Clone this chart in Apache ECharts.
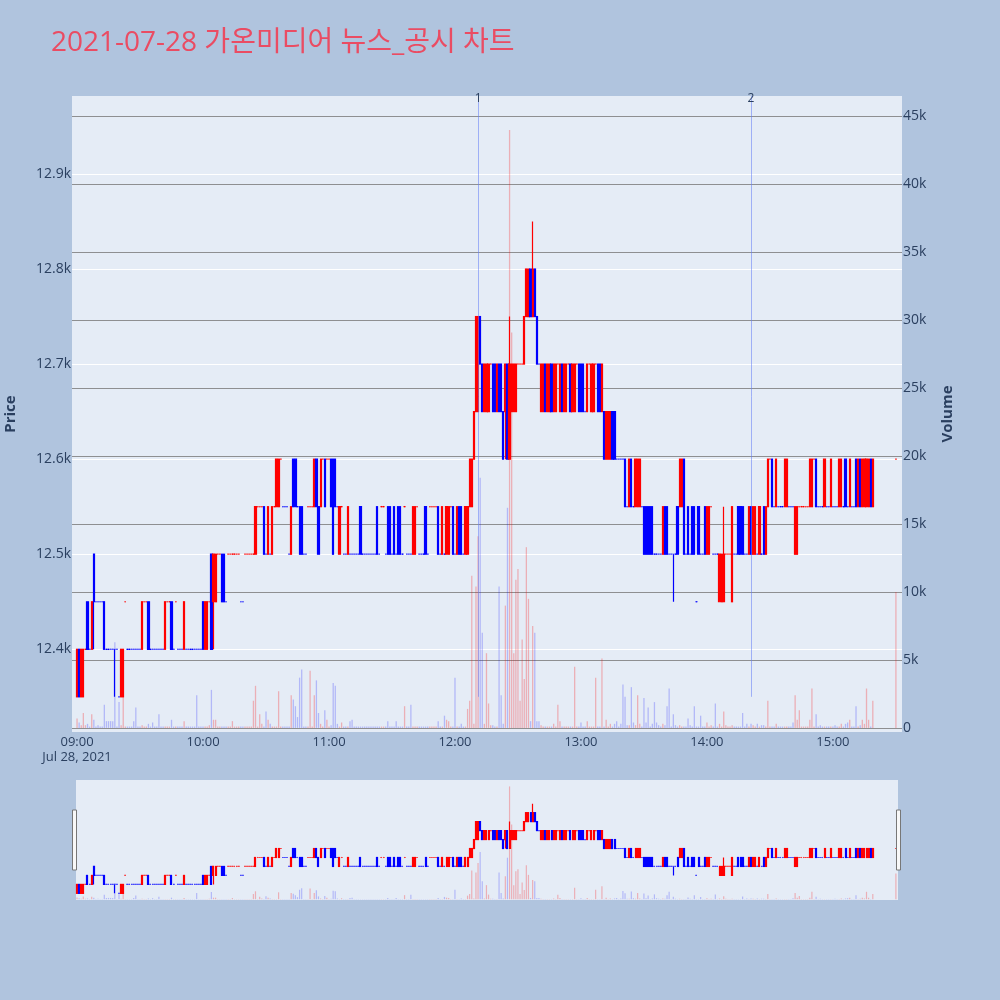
<!DOCTYPE html>
<html><head><meta charset="utf-8">
<script src="https://cdn.jsdelivr.net/npm/echarts@6/dist/echarts.min.js"></script>
<style>html,body{margin:0;padding:0;background:#b0c4de}#c{width:1000px;height:1000px}</style>
</head><body><div id="c"></div>
<script>
const titleText = '2021-07-28 가온미디어 뉴스_공시 차트';
const dateText = 'Jul 28, 2021';
const closeAuctionTime = '15:30';
// one candle per minute from 09:00, the last one is the 15:30 closing auction
const opens = [
12350,12400,12350,12350,12400,12450,12400,12400,12500,12450,
12450,12450,12450,12450,12400,12400,12400,12400,12400,12400,
12350,12350,12350,12450,12400,12400,12400,12400,12400,12400,
12400,12400,12450,12450,12450,12400,12400,12400,12400,12400,
12400,12400,12400,12450,12450,12450,12400,12450,12400,12400,
12400,12400,12400,12400,12400,12400,12400,12400,12400,12400,
12450,12400,12400,12450,12500,12450,12450,12500,12500,12500,
12500,12450,12500,12500,12500,12500,12500,12500,12450,12450,
12500,12500,12500,12500,12500,12500,12550,12550,12550,12550,
12500,12500,12500,12500,12550,12550,12550,12600,12550,12550,
12550,12500,12500,12600,12600,12550,12550,12550,12500,12500,
12550,12550,12550,12550,12600,12550,12550,12600,12600,12600,
12600,12600,12600,12600,12550,12500,12550,12500,12500,12500,
12500,12500,12500,12500,12500,12550,12500,12500,12500,12500,
12500,12500,12500,12550,12500,12550,12550,12500,12550,12550,
12500,12550,12500,12550,12550,12500,12550,12500,12500,12500,
12500,12500,12550,12500,12500,12500,12550,12500,12550,12550,
12550,12550,12550,12500,12500,12500,12500,12500,12550,12550,
12500,12500,12550,12550,12500,12500,12500,12550,12550,12600,
12650,12650,12750,12700,12650,12650,12650,12700,12700,12700,
12650,12700,12700,12650,12650,12700,12600,12650,12650,12650,
12700,12700,12700,12700,12750,12750,12800,12750,12800,12750,
12700,12650,12650,12700,12650,12650,12700,12650,12650,12700,
12650,12700,12650,12650,12700,12700,12650,12650,12700,12700,
12700,12700,12650,12650,12700,12650,12650,12700,12700,12700,
12650,12650,12600,12600,12600,12650,12650,12600,12600,12600,
12600,12600,12550,12550,12600,12550,12550,12550,12550,12550,
12550,12550,12550,12550,12550,12500,12500,12500,12500,12500,
12550,12550,12500,12500,12500,12500,12550,12550,12550,12600,
12500,12550,12500,12550,12550,12450,12550,12500,12500,12550,
12500,12500,12550,12500,12500,12500,12450,12450,12450,12500,
12500,12500,12450,12500,12500,12550,12550,12550,12500,12500,
12500,12550,12500,12500,12500,12500,12500,12550,12500,12550,
12600,12600,12550,12550,12550,12550,12550,12550,12550,12550,
12550,12550,12500,12500,12550,12550,12550,12550,12550,12550,
12550,12600,12600,12550,12550,12550,12550,12550,12550,12550,
12550,12550,12550,12550,12550,12550,12600,12550,12550,12550,
12550,12600,12550,12600,12550,12550,12550,12550,12600,12550,
12600];
const closes = [
12400,12350,12400,12400,12400,12400,12400,12450,12450,12450,
12450,12450,12450,12400,12400,12400,12400,12400,12400,12400,
12350,12400,12400,12450,12400,12400,12400,12400,12400,12400,
12400,12450,12450,12450,12400,12400,12400,12400,12400,12400,
12400,12400,12450,12450,12450,12400,12400,12450,12400,12400,
12400,12450,12400,12400,12400,12400,12400,12400,12400,12400,
12400,12450,12450,12450,12400,12500,12500,12500,12500,12450,
12450,12450,12500,12500,12500,12500,12500,12500,12450,12450,
12500,12500,12500,12500,12500,12550,12550,12550,12550,12500,
12500,12550,12500,12550,12550,12600,12600,12600,12550,12550,
12550,12500,12550,12550,12550,12550,12500,12500,12500,12500,
12550,12550,12550,12600,12550,12500,12600,12600,12550,12600,
12600,12550,12500,12550,12550,12550,12550,12500,12500,12550,
12500,12500,12500,12500,12500,12500,12500,12500,12500,12500,
12500,12500,12500,12500,12500,12550,12550,12500,12500,12500,
12500,12500,12500,12500,12500,12500,12550,12500,12500,12500,
12550,12550,12550,12500,12500,12500,12500,12500,12550,12550,
12550,12550,12500,12500,12550,12500,12550,12550,12550,12500,
12500,12550,12500,12500,12500,12550,12550,12600,12600,12650,
12750,12750,12700,12650,12700,12700,12700,12700,12650,12650,
12700,12650,12650,12600,12700,12600,12700,12700,12700,12700,
12700,12700,12700,12750,12800,12800,12750,12800,12750,12700,
12700,12700,12700,12650,12700,12700,12650,12700,12700,12700,
12700,12650,12700,12700,12700,12650,12700,12700,12700,12650,
12650,12650,12650,12700,12700,12700,12700,12700,12650,12650,
12700,12600,12650,12650,12650,12600,12600,12600,12600,12600,
12600,12550,12550,12600,12550,12550,12600,12600,12600,12550,
12500,12500,12500,12500,12500,12500,12500,12500,12500,12550,
12500,12500,12500,12500,12500,12500,12500,12600,12600,12500,
12500,12500,12500,12500,12500,12450,12500,12500,12500,12500,
12550,12550,12550,12500,12500,12500,12500,12500,12500,12500,
12500,12500,12550,12500,12500,12500,12500,12500,12500,12500,
12550,12500,12550,12550,12500,12550,12500,12500,12550,12600,
12600,12550,12550,12600,12550,12550,12550,12600,12600,12550,
12550,12550,12550,12550,12550,12550,12550,12550,12550,12600,
12600,12600,12550,12550,12550,12550,12600,12550,12550,12600,
12550,12550,12550,12600,12600,12550,12550,12550,12600,12550,
12550,12550,12600,12550,12600,12600,12600,12600,12550,12600,
12600];
// candles whose low/high reach beyond the body: [candle index, low, high]
const wicks = [[8,12400,12500],[18,12350,12400],[65,12400,12500],[204,12600,12700],
  [206,12600,12750],[217,12750,12850],[284,12450,12500],[308,12450,12550]];
const volumes = [
700,400,200,1100,200,300,100,1000,600,100,
200,100,100,1700,500,500,500,500,6300,100,
1900,200,2300,100,100,100,100,500,1500,100,
100,200,100,100,300,100,400,100,100,1000,
100,100,100,100,100,600,100,100,100,100,
100,500,100,100,100,100,100,2400,100,100,
100,100,100,200,2800,600,600,100,100,100,
100,100,100,100,500,100,100,100,100,100,
100,100,100,100,2000,3100,100,1000,300,100,
1200,600,300,100,100,100,2700,100,100,100,
100,100,2400,2100,1600,800,3700,4300,100,100,
100,4200,100,2400,3500,1100,300,100,1300,600,
100,200,3300,3100,300,100,400,100,100,100,
500,600,100,100,100,100,100,100,100,100,
100,100,100,100,100,100,100,100,500,100,
100,100,500,100,100,100,1600,100,100,1700,
100,100,100,100,100,100,100,100,100,100,
100,100,500,100,100,900,600,500,100,100,
3700,100,100,300,100,100,1400,2000,11200,300,
10400,14100,18400,7000,300,5500,1800,200,200,100,
100,10400,2400,300,9000,16200,44000,29100,5500,10900,
11700,2000,6500,3600,13300,9500,500,7500,7000,500,
500,200,100,100,100,100,100,300,100,1700,
500,100,100,100,100,100,100,4500,100,100,
400,100,100,500,100,100,100,3700,100,100,
5100,100,600,100,300,100,300,500,100,300,
3200,2300,200,200,3000,400,200,2400,300,100,
2200,400,1500,100,300,1900,400,200,100,300,
200,1600,2900,100,1000,200,100,200,100,100,
100,700,200,100,1600,100,100,900,100,100,
400,100,200,100,1800,100,300,100,1200,200,
100,100,200,100,100,100,100,1100,100,300,
100,300,200,100,300,100,200,200,100,2000,
100,100,100,300,100,100,100,100,100,100,
100,400,2400,600,1300,100,100,100,100,600,
2900,100,1000,100,200,100,100,100,100,100,
100,200,100,100,300,100,300,400,600,100,
100,1600,100,200,600,300,2900,600,100,2000,
10000];
const priceTicks = [12400,12500,12600,12700,12800,12900];
const volumeTicks = [0,5000,10000,15000,20000,25000,30000,35000,40000,45000];
const timeTicks = ['09:00','10:00','11:00','12:00','13:00','14:00','15:00'];
const newsTimes = ['12:11','14:21'];
const newsLabels = ['1','2'];

const tm = s => { const [h,m] = s.split(':').map(Number); return new Date(2021,6,28,h,m,0).getTime(); };
const MIN = 60000;
const t0 = tm(timeTicks[0]);
const times = opens.map((_, i) => i < opens.length - 1 ? t0 + i * MIN : tm(closeAuctionTime));
const lows = opens.map((o, i) => Math.min(o, closes[i]));
const highs = opens.map((o, i) => Math.max(o, closes[i]));
wicks.forEach(([i, l, h]) => { lows[i] = l; highs[i] = h; });
const dirs = []; let prevDir = 1;
opens.forEach((o, i) => {
  const c = closes[i];
  let d = c > o ? 1 : c < o ? -1 : (i > 0 ? (c > closes[i-1] ? 1 : c < closes[i-1] ? -1 : prevDir) : 1);
  dirs.push(d); prevDir = d;
});
const UP = '#ff0000', DOWN = '#0000ff';
const colOf = i => dirs[i] > 0 ? UP : DOWN;
const candleData = times.map((t, i) => {
  const col = colOf(i);
  return { value: [t, opens[i], closes[i], lows[i], highs[i]],
           itemStyle: { color: col, color0: col, borderColor: col, borderColor0: col } };
});
// candles with no price range are drawn as short dashes
const flatData = [];
times.forEach((t, i) => { if (lows[i] === highs[i]) flatData.push({ value: [t, opens[i]],
  itemStyle: { color: dirs[i] > 0 ? 'rgba(255,0,0,0.6)' : 'rgba(0,0,255,0.5)' } }); });
const volData = times.map((t, i) => ({ value: [t, volumes[i]],
  itemStyle: { color: dirs[i] > 0 ? 'rgba(255,0,0,0.26)' : 'rgba(0,0,255,0.22)' } }));

const priceMin = 12313, priceMax = 12982, volMin = -300, volMax = 46500;
const xMin = t0 - 2.4 * MIN, xMax = t0 + 392.9 * MIN;
const lowest = Math.min(...lows);
const FONT = "'Open Sans', 'Noto Sans CJK KR', sans-serif";
const TXT = '#2a3f5f';
const TICK = 14;
const pad = n => String(n).padStart(2, '0');

const chart = echarts.init(document.getElementById('c'));
chart.setOption({
  animation: false,
  backgroundColor: '#b0c4de',
  textStyle: { fontFamily: FONT },
  title: { text: titleText, left: 46, top: 24,
    textStyle: { fontSize: 28, fontWeight: 'normal', color: '#ea4c63', fontFamily: FONT } },
  grid: [
    { left: 72, top: 96, width: 830, height: 636, show: true, backgroundColor: '#e5ecf6', borderWidth: 0,
      containLabel: false, outerBoundsMode: 'none' },
    { left: 76, top: 780, width: 822, height: 120, show: true, backgroundColor: '#e5ecf6', borderWidth: 0,
      containLabel: false, outerBoundsMode: 'none' }
  ],
  xAxis: [
    { type: 'value', gridIndex: 0, min: xMin, max: xMax, scale: true,
      axisLine: { show: false }, axisTick: { show: false, customValues: timeTicks.map(tm) }, splitLine: { show: false },
      axisLabel: { customValues: timeTicks.map(tm), color: TXT, fontSize: TICK - 1, margin: 3, lineHeight: 15,
        hideOverlap: false, showMinLabel: true, showMaxLabel: true,
        formatter: v => { const d = new Date(v); const s = pad(d.getHours()) + ':' + pad(d.getMinutes());
          return s === timeTicks[0] ? s + '\n' + dateText : s; } } },
    { type: 'value', gridIndex: 1, min: t0 - 0.476 * MIN, max: t0 + 391.0 * MIN, scale: true, show: false, splitLine: { show: false } }
  ],
  yAxis: [
    { type: 'value', gridIndex: 0, position: 'left', min: priceMin, max: priceMax,
      name: 'Price', nameLocation: 'middle', nameGap: 54, nameRotate: 90,
      nameTextStyle: { color: TXT, fontSize: 15, fontWeight: 'bold' },
      axisLine: { show: false }, axisTick: { show: false, customValues: priceTicks },
      axisLabel: { customValues: priceTicks, color: TXT, fontSize: TICK, margin: 1,
        formatter: v => (v / 1000).toFixed(1) + 'k' },
      splitLine: { show: true, lineStyle: { color: '#ffffff', width: 1 } } },
    { type: 'value', gridIndex: 0, position: 'right', min: volMin, max: volMax,
      name: 'Volume', nameLocation: 'middle', nameGap: 38, nameRotate: 90,
      nameTextStyle: { color: TXT, fontSize: 15, fontWeight: 'bold' },
      axisLine: { show: false }, axisTick: { show: false, customValues: volumeTicks },
      axisLabel: { customValues: volumeTicks, color: TXT, fontSize: TICK, margin: 1,
        formatter: v => v === 0 ? '0' : (v / 1000) + 'k' },
      splitLine: { show: true, lineStyle: { color: 'rgba(120,120,120,0.8)', width: 1 } } },
    { type: 'value', gridIndex: 1, min: priceMin, max: priceMax, show: false, splitLine: { show: false } },
    { type: 'value', gridIndex: 1, min: volMin, max: volMax, show: false, splitLine: { show: false } }
  ],
  graphic: [
    { type: 'rect', shape: { x: 72.5, y: 810, width: 4, height: 60 }, style: { fill: '#f8f8f8', stroke: '#777', lineWidth: 1 }, z: 100 },
    { type: 'rect', shape: { x: 896.5, y: 810, width: 4, height: 60 }, style: { fill: '#f8f8f8', stroke: '#777', lineWidth: 1 }, z: 100 }
  ],
  series: [
    { type: 'bar', xAxisIndex: 0, yAxisIndex: 1, data: volData, barWidth: 1.3, z: 2, silent: true },
    { type: 'candlestick', xAxisIndex: 0, yAxisIndex: 0, data: candleData, barWidth: 1.7, large: false,
      encode: { x: 0, y: [1, 2, 3, 4] }, itemStyle: { borderWidth: 1.2 }, z: 3, silent: true,
      markLine: { silent: true, symbol: ['none', 'none'], animation: false,
        lineStyle: { color: 'rgba(100,125,245,0.55)', width: 1, type: 'solid' },
        label: { show: true, position: 'end', formatter: '{b}', color: TXT, fontSize: 12, distance: -9 },
        data: newsTimes.map((s, i) => [
          { name: newsLabels[i], coord: [tm(s), lowest] },
          { name: newsLabels[i], coord: [tm(s), priceMax] }]) } },
    { type: 'scatter', xAxisIndex: 0, yAxisIndex: 0, data: flatData, symbol: 'rect', symbolSize: [1.2, 1.5],
      z: 3, silent: true },
    { type: 'bar', xAxisIndex: 1, yAxisIndex: 3, data: volData, barWidth: 1.2, z: 2, silent: true },
    { type: 'candlestick', xAxisIndex: 1, yAxisIndex: 2, data: candleData, barWidth: 1.5, large: false,
      encode: { x: 0, y: [1, 2, 3, 4] }, itemStyle: { borderWidth: 1.2 }, z: 3, silent: true },
    { type: 'scatter', xAxisIndex: 1, yAxisIndex: 2, data: flatData, symbol: 'rect', symbolSize: [1.2, 1.2],
      z: 3, silent: true }
  ]
});
</script></body></html>
